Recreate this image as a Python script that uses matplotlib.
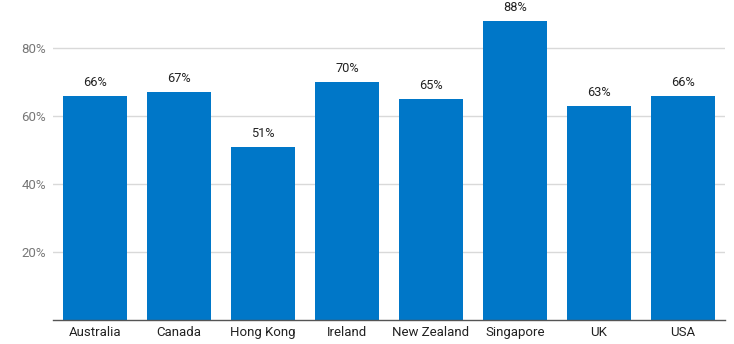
import matplotlib
matplotlib.use('Agg')
import matplotlib.pyplot as plt

countries = ['Australia', 'Canada', 'Hong Kong', 'Ireland', 'New Zealand', 'Singapore', 'UK', 'USA']
values = [66, 67, 51, 70, 65, 88, 63, 66]
yticks = [20, 40, 60, 80]

plt.rcParams['font.family'] = ['Roboto', 'DejaVu Sans']

fig = plt.figure(figsize=(7.34, 3.44), dpi=100)
ax = fig.add_axes([0.0722, 0.0698, 0.9155, 0.9302])

bars = ax.bar(range(len(countries)), values, width=0.77, color='#0077C8', zorder=3)
for i, v in enumerate(values):
    ax.text(i, v + 2.0, f'{v}%', ha='center', va='bottom', fontsize=9.2, color='#222222')

ax.set_xlim(-0.5, len(countries) - 0.5)
ax.set_ylim(0, 94.1)
ax.set_yticks(yticks)
ax.set_yticklabels([f'{t}%' for t in yticks], fontsize=9.5, color='#777777')
ax.set_xticks(range(len(countries)))
ax.set_xticklabels(countries, fontsize=9.5, color='#222222')
ax.tick_params(axis='both', length=0)
ax.tick_params(axis='y', pad=5)
ax.tick_params(axis='x', pad=4)
ax.grid(axis='y', color='#d9d9d9', linewidth=1, zorder=0)

for s in ['top', 'right', 'left']:
    ax.spines[s].set_visible(False)
ax.spines['bottom'].set_color('#555555')
ax.spines['bottom'].set_linewidth(1)
ax.spines['bottom'].set_zorder(4)

fig.savefig('out.png', dpi=100)
